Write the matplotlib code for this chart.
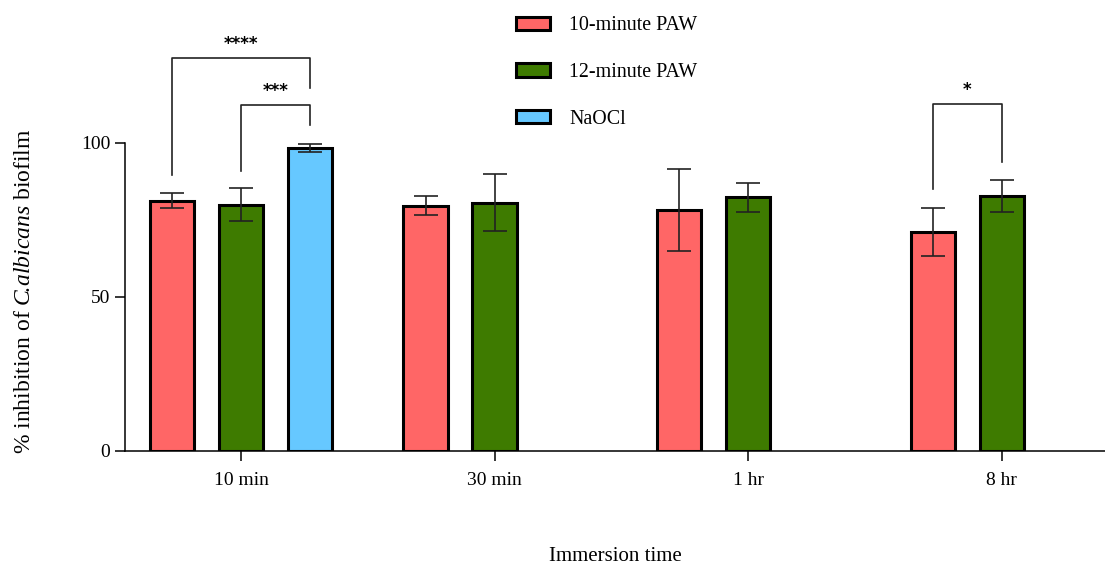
import numpy as np
import matplotlib.pyplot as plt

plt.rcParams['font.family'] = ['Liberation Serif', 'DejaVu Serif']
plt.rcParams['mathtext.fontset'] = 'custom'
plt.rcParams['mathtext.it'] = 'Liberation Serif:italic'
plt.rcParams['mathtext.rm'] = 'Liberation Serif'

groups = ['10 min', '30 min', '1 hr', '8 hr']
series = ['10-minute PAW', '12-minute PAW', 'NaOCl']
colors = ['#ff6666', '#3e7b00', '#66c8ff']

paw10 = [81.3, 79.6, 78.2, 71.2]
paw10_err = [2.5, 3.1, 13.4, 7.8]
paw12 = [80.0, 80.6, 82.4, 82.8]
paw12_err = [5.5, 9.2, 4.7, 5.1]
naocl = [98.4, np.nan, np.nan, np.nan]
naocl_err = [1.2, np.nan, np.nan, np.nan]

# significance brackets: (group, bar a, bar b, height, leg a, leg b, label)
brackets = [
    (0, 0, 2, 127.5, 89.5, 118.0, '****'),
    (0, 1, 2, 112.3, 91.0, 105.8, '***'),
    (3, 0, 1, 112.7, 85.0, 93.8, '*'),
]

fig = plt.figure(figsize=(11.05, 5.65), dpi=100)
ax = fig.add_axes([0.113, 0.202, 0.887, 0.763])

x = np.arange(len(groups))
off = 0.272
w = 0.174
vals = [paw10, paw12, naocl]
errs = [paw10_err, paw12_err, naocl_err]
for i in range(3):
    xs = x + (i - 1) * off
    ax.bar(xs, vals[i], w, color=colors[i], edgecolor='black', linewidth=2.2,
           label=series[i], zorder=2)
    ax.errorbar(xs, vals[i], yerr=errs[i], fmt='none', ecolor='#222222',
                elinewidth=1.2, capsize=8.5, capthick=1.2, zorder=3)

for g, a, b, h, la, lb, lab in brackets:
    xa = g + (a - 1) * off
    xb = g + (b - 1) * off
    ax.plot([xa, xa, xb, xb], [la, h, h, lb], color='#222222', lw=1.2)
    ax.text((xa + xb) / 2, h + 4.5, lab, ha='center', va='center',
            fontsize=12, fontweight='bold', family='DejaVu Sans')

ax.set_xlim(-0.458, 3.408)
ax.set_ylim(0, 140)
ax.set_yticks([0, 50, 100])
ax.set_xticks(x)
ax.set_xticklabels(groups)
ax.spines['top'].set_visible(False)
ax.spines['right'].set_visible(False)
ax.spines['left'].set_bounds(0, 100)
ax.spines['left'].set_linewidth(1.1)
ax.spines['bottom'].set_linewidth(1.1)
ax.tick_params(axis='both', labelsize=14, length=7, width=1.1)
ax.tick_params(axis='x', pad=8)

ax.set_ylabel('% inhibition of $\\mathit{C}\\!\\mathit{.}\\!\\mathit{albicans}$ biofilm', fontsize=17)
ax.yaxis.set_label_coords(-0.092, 0.371)
ax.set_xlabel('Immersion time', fontsize=15)
ax.xaxis.set_label_coords(0.5, -0.223)

fig.legend(loc='upper left', bbox_to_anchor=(0.451, 1.003), frameon=False,
           fontsize=14.4, labelspacing=1.38, handlelength=1.7, handleheight=0.65,
           handletextpad=0.95)

fig.savefig('out.png', dpi=100)
